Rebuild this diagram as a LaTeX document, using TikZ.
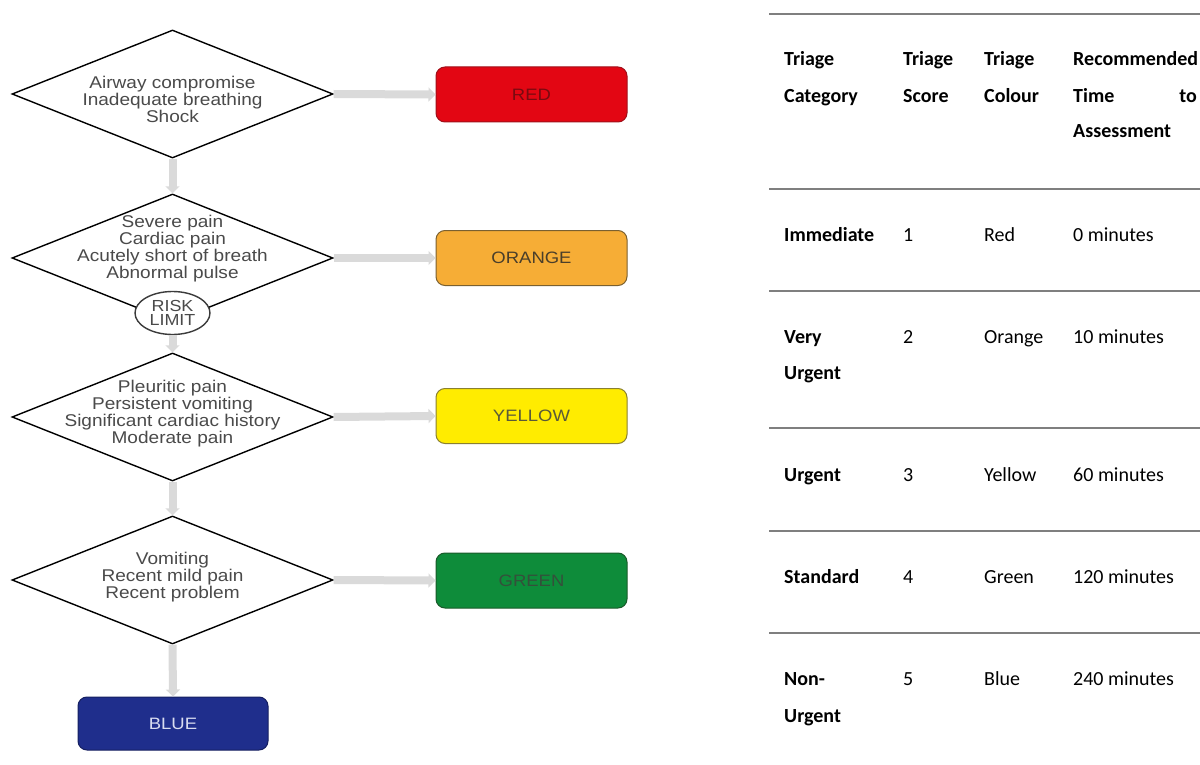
\documentclass[tikz,border=0pt]{standalone}
\usepackage{fontspec}
\setmainfont{Carlito}
\newfontfamily\flowfont[FakeStretch=1.12]{Liberation Sans}
\usetikzlibrary{shapes.geometric,arrows.meta}
\definecolor{textgray}{HTML}{4A4A4A}
\definecolor{arrowgray}{HTML}{DADADA}
\definecolor{rulegray}{HTML}{7F7F7F}
\definecolor{redfill}{HTML}{E30613}
\definecolor{redline}{HTML}{A0101A}
\definecolor{redtext}{HTML}{7A0A10}
\definecolor{orangefill}{HTML}{F6AD36}
\definecolor{orangeline}{HTML}{7A6030}
\definecolor{orangetext}{HTML}{4A3E2A}
\definecolor{yellowfill}{HTML}{FFEC00}
\definecolor{yellowline}{HTML}{8A8030}
\definecolor{yellowtext}{HTML}{5A5A38}
\definecolor{greenfill}{HTML}{0E8C3A}
\definecolor{greenline}{HTML}{1A5A2A}
\definecolor{greentext}{HTML}{34503A}
\definecolor{bluefill}{HTML}{1F2E8C}
\definecolor{blueline}{HTML}{151F60}
\definecolor{bluetext}{HTML}{D8DCF0}
\begin{document}
\begin{tikzpicture}[x=1pt,y=-1pt,
  dia/.style={draw=black, line width=1.4pt, shape=diamond, minimum width=321pt, minimum height=128pt, inner sep=0pt, fill=white},
  diatext/.style={font=\flowfont\fontsize{17}{17}\selectfont, text=textgray, align=center, inner sep=0pt},
  catbox/.style={rounded corners=9pt, minimum width=191pt, minimum height=55pt, line width=1pt, inner sep=0pt, font=\flowfont\fontsize{16.5}{17}\selectfont},
  flow/.style={draw=arrowgray, line width=8pt, -{Triangle[length=7pt,width=14pt]}},
  risk/.style={draw=textgray!80!black, line width=1.4pt, fill=white, ellipse, minimum width=75pt, minimum height=43pt, inner sep=0pt, align=center, font=\flowfont\fontsize{16}{14}\selectfont, text=textgray},
  rule/.style={draw=rulegray, line width=2.5pt},
  cell/.style={anchor=base west, inner sep=0pt, font=\fontsize{20}{24}\selectfont},
  hcell/.style={cell, font=\bfseries\fontsize{20}{24}\selectfont}
]
\useasboundingbox (0,0) rectangle (1200,765);

% diamonds
\node[dia] (d1) at (172.5,94) {};
\node[dia] (d2) at (172.5,258) {};
\node[dia] (d3) at (172.5,417) {};
\node[dia] (d4) at (172.5,580) {};
\node[diatext] (t1) at (172.5,99) {Airway compromise\\Inadequate breathing\\Shock};
\node[diatext] (t2) at (172.5,249) {Severe pain\\Cardiac pain\\Acutely short of breath\\Abnormal pulse};
\node[diatext] (t3) at (172.5,414) {Pleuritic pain\\Persistent vomiting\\Significant cardiac history\\Moderate pain};
\node[diatext] (t4) at (172.5,577) {Vomiting\\Recent mild pain\\Recent problem};
\node[risk] (rl) at (172.5,313) {RISK\\LIMIT};

% category boxes
\node[catbox, fill=redfill, draw=redline, text=redtext] (red) at (531.5,94.5) {RED};
\node[catbox, fill=orangefill, draw=orangeline, text=orangetext] (orange) at (531.5,258) {ORANGE};
\node[catbox, fill=yellowfill, draw=yellowline, text=yellowtext] (yellow) at (531.5,416) {YELLOW};
\node[catbox, fill=greenfill, draw=greenline, text=greentext] (green) at (531.5,580.5) {GREEN};
\node[catbox, fill=bluefill, draw=blueline, text=bluetext, minimum width=190pt, minimum height=53pt] (blue) at (173,723.5) {BLUE};

% connectors
\draw[flow] (d1.east) -- (red.west);
\draw[flow] (d2.east) -- (orange.west);
\draw[flow] (d3.east) -- (yellow.west);
\draw[flow] (d4.east) -- (green.west);
\draw[flow] (d1.south) -- (d2.north);
\draw[flow] (rl.south) -- (d3.north);
\draw[flow] (d3.south) -- (d4.north);
\draw[flow] (d4.south) -- (blue.north);

% table rules
\coordinate (r0l) at (769,14);  \coordinate (r0r) at (1200,14);
\coordinate (r1l) at (769,189); \coordinate (r1r) at (1200,189);
\coordinate (r2l) at (769,291); \coordinate (r2r) at (1200,291);
\coordinate (r3l) at (769,428); \coordinate (r3r) at (1200,428);
\coordinate (r4l) at (769,531); \coordinate (r4r) at (1200,531);
\coordinate (r5l) at (769,633); \coordinate (r5r) at (1200,633);
\draw[rule] (r0l) -- (r0r);
\draw[rule] (r1l) -- (r1r);
\draw[rule] (r2l) -- (r2r);
\draw[rule] (r3l) -- (r3r);
\draw[rule] (r4l) -- (r4r);
\draw[rule] (r5l) -- (r5r);

% header
\node[hcell] (h1a) at (784,66) {Triage};
\node[hcell] (h1b) at (784,103) {Category};
\node[hcell] (h2a) at (903,66) {Triage};
\node[hcell] (h2b) at (903,103) {Score};
\node[hcell] (h3a) at (984,66) {Triage};
\node[hcell] (h3b) at (984,103) {Colour};
\node[hcell] (h4a) at (1073,66) {Recommended};
\node[hcell] (h4b) at (1073,103) {Time};
\node[hcell, anchor=base east] (h4c) at (1197,103) {to};
\node[hcell] (h4d) at (1073,138) {Assessment};

% rows
\node[hcell] (c11) at (784,241) {Immediate};
\node[cell] (c12) at (903,241) {1};
\node[cell] (c13) at (984,241) {Red};
\node[cell] (c14) at (1073,241) {0 minutes};

\node[hcell] (c21) at (784,343) {Very};
\node[hcell] (c21b) at (784,379) {Urgent};
\node[cell] (c22) at (903,343) {2};
\node[cell] (c23) at (984,343) {Orange};
\node[cell] (c24) at (1073,343) {10 minutes};

\node[hcell] (c31) at (784,481) {Urgent};
\node[cell] (c32) at (903,481) {3};
\node[cell] (c33) at (984,481) {Yellow};
\node[cell] (c34) at (1073,481) {60 minutes};

\node[hcell] (c41) at (784,583) {Standard};
\node[cell] (c42) at (903,583) {4};
\node[cell] (c43) at (984,583) {Green};
\node[cell] (c44) at (1073,583) {120 minutes};

\node[hcell] (c51) at (784,685) {Non-};
\node[hcell] (c51b) at (784,722) {Urgent};
\node[cell] (c52) at (903,685) {5};
\node[cell] (c53) at (984,685) {Blue};
\node[cell] (c54) at (1073,685) {240 minutes};
\end{tikzpicture}
\end{document}
